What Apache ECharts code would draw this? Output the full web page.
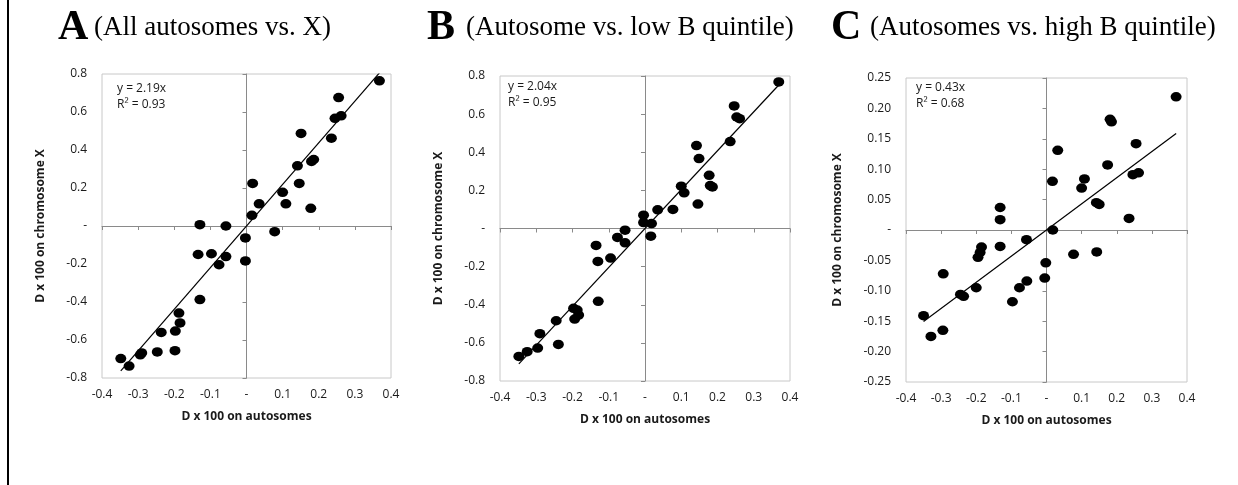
<!DOCTYPE html>
<html><head><meta charset="utf-8">
<script src="https://cdn.jsdelivr.net/npm/echarts@6/dist/echarts.min.js"></script>
<style>html,body{margin:0;padding:0;background:#fff}#c{width:1238px;height:485px}</style>
</head><body><div id="c"></div><script>
// ---- data ----
const panelLetters = ['A', 'B', 'C'];
const panelSubtitles = ['(All autosomes vs. X)', '(Autosome vs. low B quintile)', '(Autosomes vs. high B quintile)'];
const xAxisTitle = 'D x 100 on autosomes';
const yAxisTitle = 'D x 100 on chromosome X';
const slopes = [2.19, 2.04, 0.43];
const slopeLabels = ['y = 2.19x', 'y = 2.04x', 'y = 0.43x'];
const r2Labels = ['R\u00B2 = 0.93', 'R\u00B2 = 0.95', 'R\u00B2 = 0.68'];
const xTicks = { min: -0.4, max: 0.4, interval: 0.1 };
const yTicksAB = { min: -0.8, max: 0.8, interval: 0.2 };
const yTicksC = { min: -0.25, max: 0.25, interval: 0.05 };

const aX = [0.368,0.255,0.245,0.262,0.235,0.151,0.141,0.180,0.186,0.017,0.100,0.146,0.035,0.109,0.178,0.015,-0.129,-0.057,0.078,-0.003,-0.134,-0.097,-0.057,-0.076,-0.003,-0.129,-0.187,-0.184,-0.236,-0.197,-0.198,-0.247,-0.290,-0.294,-0.348,-0.325];
const aY = [0.764,0.676,0.567,0.580,0.462,0.487,0.317,0.340,0.350,0.224,0.177,0.224,0.117,0.117,0.093,0.056,0.007,0.000,-0.030,-0.063,-0.150,-0.146,-0.161,-0.204,-0.184,-0.387,-0.458,-0.510,-0.560,-0.553,-0.656,-0.663,-0.668,-0.678,-0.698,-0.737];

const bX = [0.369,0.246,0.253,0.261,0.235,0.142,0.149,0.177,0.180,0.186,0.100,0.108,0.146,0.077,0.035,-0.004,-0.004,0.018,0.016,-0.055,-0.076,-0.055,-0.135,-0.130,-0.095,-0.129,-0.197,-0.187,-0.183,-0.194,-0.245,-0.290,-0.296,-0.239,-0.325,-0.348];
const bY = [0.769,0.643,0.585,0.576,0.456,0.435,0.367,0.279,0.225,0.218,0.222,0.187,0.128,0.100,0.098,0.070,0.031,0.026,-0.040,-0.009,-0.047,-0.075,-0.089,-0.173,-0.155,-0.382,-0.419,-0.428,-0.454,-0.475,-0.484,-0.552,-0.627,-0.608,-0.646,-0.671];

const cX = [0.369,0.181,0.185,0.255,0.032,0.174,0.246,0.262,0.017,0.108,0.100,0.142,0.150,0.235,-0.132,-0.132,0.018,-0.057,-0.132,-0.185,-0.189,-0.195,-0.002,0.077,0.143,-0.294,-0.005,-0.056,-0.077,-0.200,-0.245,-0.236,-0.097,-0.350,-0.295,-0.329];
const cY = [0.219,0.182,0.178,0.142,0.131,0.107,0.091,0.094,0.080,0.084,0.069,0.045,0.042,0.019,0.037,0.017,0.000,-0.016,-0.027,-0.028,-0.037,-0.045,-0.054,-0.040,-0.036,-0.072,-0.079,-0.084,-0.095,-0.095,-0.106,-0.109,-0.118,-0.141,-0.165,-0.175];

// ---- layout ----
const grids = [
  { left: 102, top: 74, width: 289, height: 304 },
  { left: 500, top: 76, width: 290, height: 305 },
  { left: 906, top: 78, width: 281, height: 304 }
];
const yNameGaps = [55, 55, 62];
const titlePos = [ { bx: 58, px: 94 }, { bx: 427, px: 466 }, { bx: 831, px: 870 } ];
const eqPos = [ { x: 117, y: 89 }, { x: 508, y: 87 }, { x: 916, y: 88 } ];

const xs = [aX, bX, cX], ys = [aY, bY, cY];
const yTicks = [yTicksAB, yTicksAB, yTicksC];
const yDec = [1, 1, 2];

const FONT = '"Open Sans", "Liberation Sans", sans-serif';
const fmt = d => v => (Math.abs(v) < 1e-9 ? '-' : v.toFixed(d));

const option = { animation: false, grid: [], xAxis: [], yAxis: [], series: [], graphic: [] };

for (let i = 0; i < 3; i++) {
  const g = grids[i];
  option.grid.push({ left: g.left, top: g.top, width: g.width, height: g.height, show: true, borderColor: '#c8c8c8', borderWidth: 1, backgroundColor: 'transparent' });
  const xl = option.xAxis.length, yl = option.yAxis.length;
  option.xAxis.push({
    type: 'value', gridIndex: i, position: 'bottom', min: xTicks.min, max: xTicks.max, interval: xTicks.interval,
    axisLine: { show: false, onZero: false }, axisTick: { show: false }, splitLine: { show: false },
    axisLabel: { formatter: fmt(1), color: '#1a1a1a', fontFamily: FONT, fontSize: 12, margin: 11 },
    name: xAxisTitle, nameLocation: 'middle', nameGap: 33,
    nameTextStyle: { fontFamily: FONT, fontSize: 12, fontWeight: 'bold', color: '#1a1a1a' }
  });
  option.xAxis.push({
    type: 'value', gridIndex: i, position: 'bottom', min: xTicks.min, max: xTicks.max, interval: xTicks.interval,
    axisLine: { show: true, onZero: true, onZeroAxisIndex: yl, lineStyle: { color: '#8a8a8a', width: 1 } },
    axisTick: { show: true, length: 4, lineStyle: { color: '#8a8a8a' } }, axisLabel: { show: false }, splitLine: { show: false }
  });
  option.yAxis.push({
    type: 'value', gridIndex: i, position: 'left', min: yTicks[i].min, max: yTicks[i].max, interval: yTicks[i].interval,
    axisLine: { show: false, onZero: false }, axisTick: { show: false }, splitLine: { show: false },
    axisLabel: { formatter: fmt(yDec[i]), color: '#1a1a1a', fontFamily: FONT, fontSize: 12, margin: 15 },
    name: yAxisTitle, nameLocation: 'middle', nameGap: yNameGaps[i], nameRotate: 90,
    nameTextStyle: { fontFamily: FONT, fontSize: 12, fontWeight: 'bold', color: '#1a1a1a' }
  });
  option.yAxis.push({
    type: 'value', gridIndex: i, position: 'left', min: yTicks[i].min, max: yTicks[i].max, interval: yTicks[i].interval,
    axisLine: { show: true, onZero: true, onZeroAxisIndex: xl, lineStyle: { color: '#8a8a8a', width: 1 } },
    axisTick: { show: true, length: 4, lineStyle: { color: '#8a8a8a' } }, axisLabel: { show: false }, splitLine: { show: false }
  });
  const pts = xs[i].map((x, k) => [x, ys[i][k]]);
  const xmin = Math.min(...xs[i]), xmax = Math.max(...xs[i]);
  option.series.push({
    type: 'line', xAxisIndex: xl, yAxisIndex: yl, data: [[xmin, slopes[i] * xmin], [xmax, slopes[i] * xmax]],
    showSymbol: false, symbol: 'none', clip: true, lineStyle: { color: '#000', width: 1.2 }, z: 2, silent: true
  });
  option.series.push({
    type: 'scatter', xAxisIndex: xl, yAxisIndex: yl, data: pts, symbol: 'circle', symbolSize: [11, 9.5],
    itemStyle: { color: '#000', opacity: 1 }, z: 3, silent: true
  });
  option.graphic.push({ type: 'text', left: titlePos[i].bx, top: 7, style: { text: panelLetters[i], font: 'bold 42px "Liberation Serif", "DejaVu Serif", serif', fill: '#000' } });
  option.graphic.push({ type: 'text', left: titlePos[i].px, top: 14, style: { text: panelSubtitles[i], font: '27px "Liberation Serif", "DejaVu Serif", serif', fill: '#000' } });
  option.graphic.push({ type: 'text', left: eqPos[i].x, top: eqPos[i].y - 9, style: { text: slopeLabels[i] + '\n' + r2Labels[i], font: '12px ' + FONT, fill: '#1a1a1a', lineHeight: 16.5 } });
}
option.graphic.push({ type: 'rect', left: 7, top: 0, shape: { width: 2, height: 485 }, style: { fill: '#000' } });

const chart = echarts.init(document.getElementById('c'), null, { renderer: 'canvas' });
chart.setOption(option);
</script></body></html>
